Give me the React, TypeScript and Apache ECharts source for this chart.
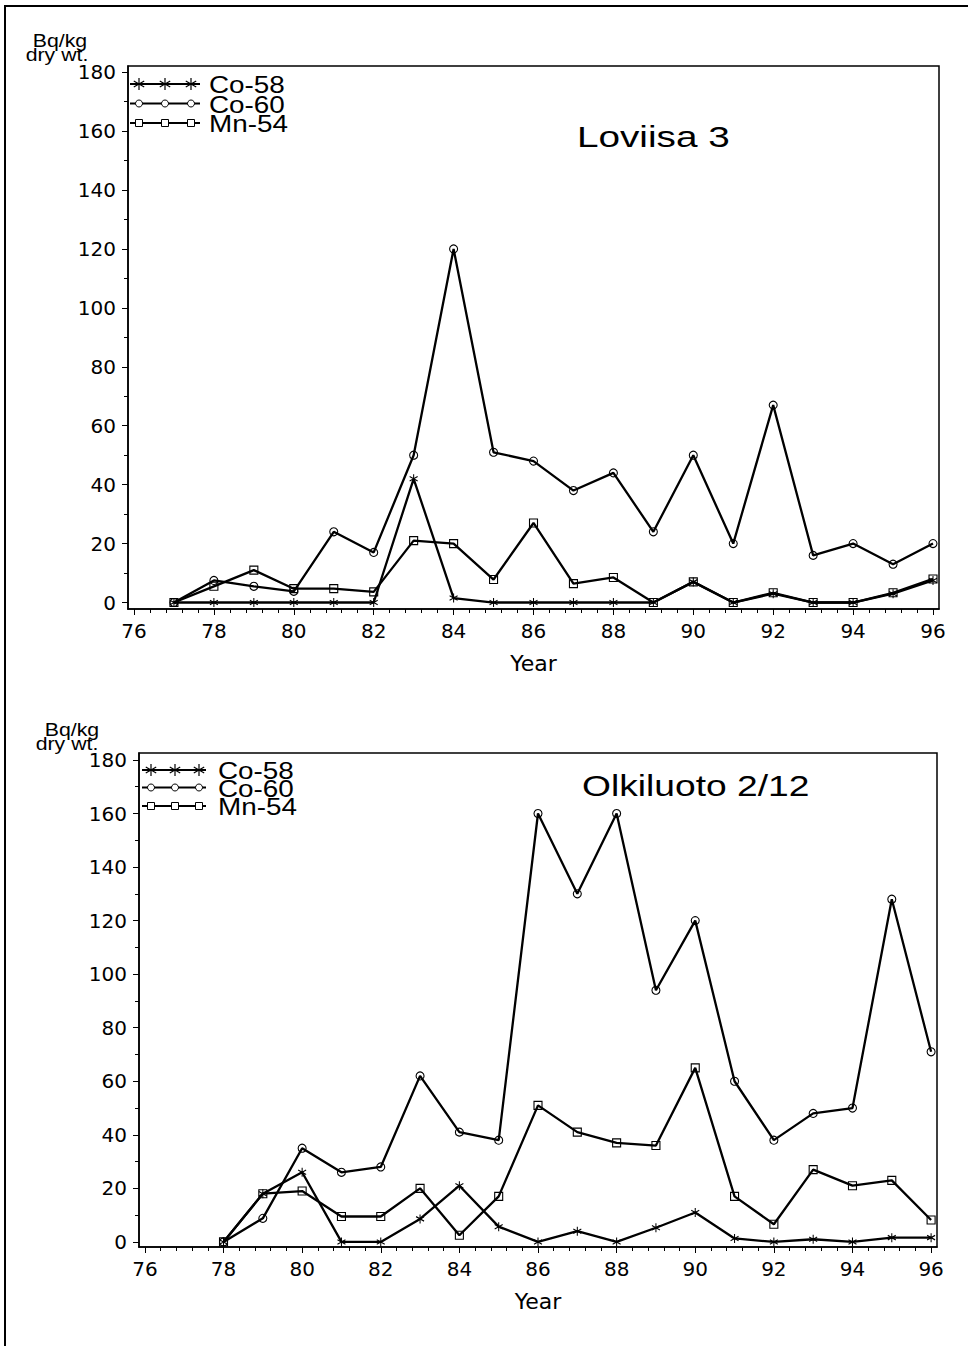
import React, { useEffect, useRef } from "react";
import * as echarts from "echarts";

// ---------- data ----------
const loviisaYears = [77, 78, 79, 80, 81, 82, 83, 84, 85, 86, 87, 88, 89, 90, 91, 92, 93, 94, 95, 96];
const loviisaCo58 = [0, 0, 0, 0, 0, 0, 42, 1.5, 0, 0, 0, 0, 0, 7, 0, 3, 0, 0, 3, 7.5];
const loviisaCo60 = [0, 7.5, 5.5, 3.8, 24, 17, 50, 120, 51, 48, 38, 44, 24, 50, 20, 67, 16, 20, 13, 20];
const loviisaMn54 = [0, 5.5, 11, 4.7, 4.7, 3.6, 21, 20, 7.8, 27, 6.4, 8.5, 0, 7, 0, 3.3, 0, 0, 3.3, 8];

const olkYears = [78, 79, 80, 81, 82, 83, 84, 85, 86, 87, 88, 89, 90, 91, 92, 93, 94, 95, 96];
const olkCo58 = [0, 18, 26, 0, 0, 8.6, 21, 5.7, 0, 4, 0, 5.3, 11, 1.3, 0, 1, 0, 1.6, 1.6];
const olkCo60 = [0, 8.8, 35, 26, 28, 62, 41, 38, 160, 130, 160, 94, 120, 60, 38, 48, 50, 128, 71];
const olkMn54 = [0, 18, 19, 9.5, 9.5, 20, 2.5, 17, 51, 41, 37, 36, 65, 17, 6.6, 27, 21, 23, 8.2];

const xTickValues = [76, 78, 80, 82, 84, 86, 88, 90, 92, 94, 96];
const yTickValues = [0, 20, 40, 60, 80, 100, 120, 140, 160, 180];
const seriesNames = ["Co-58", "Co-60", "Mn-54"];
const titles = ["Loviisa 3", "Olkiluoto 2/12"];
const unitLines = ["Bq/kg", "dry wt."];
const xName = "Year";

const xMinor: number[] = [];
for (let i = 0; i <= 50; i++) {
  if (i % 5 !== 0) xMinor.push(Math.round((76 + i * 0.4) * 10) / 10);
}
const yMinor: number[] = [];
for (let v = 10; v < 180; v += 20) yMinor.push(v);

const FONT = '"Liberation Sans", Arial, sans-serif';
const AXFONT = '"DejaVu Sans", sans-serif';
const ASTER = "path://M5,0 L5,10 M0.67,2.5 L9.33,7.5 M0.67,7.5 L9.33,2.5";

function zip(xs: number[], ys: number[]) {
  return xs.map((x, i) => [x, ys[i]]);
}

function mkSeries(name: string, data: number[][], idx: number, kind: number) {
  const symbol = kind === 0 ? ASTER : kind === 1 ? "circle" : "rect";
  return {
    name,
    type: "line",
    xAxisIndex: idx * 2,
    yAxisIndex: idx * 2,
    data,
    symbol,
    symbolSize: kind === 0 ? [8, 9] : 8,
    showSymbol: true,
    lineStyle: { color: "#000", width: 2.3 },
    itemStyle: { color: "rgba(0,0,0,0)", borderColor: "#000", borderWidth: 1.1 },
    z: 3 + kind,
  };
}

function axesFor(gridIndex: number, yMin: number, yMax: number) {
  const xMain = {
    type: "value",
    gridIndex,
    position: "bottom",
    min: 75.85,
    max: 96.15,
    axisLine: { show: true, onZero: false, lineStyle: { color: "#000", width: 1.5 } },
    axisTick: { show: true, customValues: xTickValues, length: 6, lineStyle: { color: "#000", width: 1 } },
    axisLabel: {
      show: true,
      customValues: xTickValues,
      fontSize: 20,
      fontFamily: AXFONT,
      color: "#000",
      margin: 12,
    },
    splitLine: { show: false },
    name: xName,
    nameLocation: "middle",
    nameGap: 43,
    nameTextStyle: { fontSize: 22, fontFamily: AXFONT, color: "#000" },
  };
  const xMinorAxis = {
    type: "value",
    gridIndex,
    position: "bottom",
    min: 75.85,
    max: 96.15,
    axisLine: { show: false, onZero: false },
    axisTick: { show: true, customValues: xMinor, length: 4, lineStyle: { color: "#000", width: 1 } },
    axisLabel: { show: false },
    splitLine: { show: false },
  };
  const yMain = {
    type: "value",
    gridIndex,
    position: "left",
    min: yMin,
    max: yMax,
    axisLine: { show: true, onZero: false, lineStyle: { color: "#000", width: 1.5 } },
    axisTick: { show: true, customValues: yTickValues, length: 6, lineStyle: { color: "#000", width: 1 } },
    axisLabel: {
      show: true,
      customValues: yTickValues,
      fontSize: 20,
      fontFamily: AXFONT,
      color: "#000",
      margin: 12,
    },
    splitLine: { show: false },
  };
  const yMinorAxis = {
    type: "value",
    gridIndex,
    min: yMin,
    max: yMax,
    position: "left",
    axisLine: { show: false, onZero: false },
    axisTick: { show: true, customValues: yMinor, length: 4, lineStyle: { color: "#000", width: 1 } },
    axisLabel: { show: false },
    splitLine: { show: false },
  };
  return { x: [xMain, xMinorAxis], y: [yMain, yMinorAxis] };
}

function asterisk(cx: number, cy: number, r: number) {
  const dx = r * 0.87;
  const dy = r * 0.5;
  const ls = { stroke: "#000", lineWidth: 1.2 };
  return [
    { type: "line", shape: { x1: cx, y1: cy - r, x2: cx, y2: cy + r }, style: ls },
    { type: "line", shape: { x1: cx - dx, y1: cy - dy, x2: cx + dx, y2: cy + dy }, style: ls },
    { type: "line", shape: { x1: cx - dx, y1: cy + dy, x2: cx + dx, y2: cy - dy }, style: ls },
  ];
}

function legendGraphics(x0: number, x1: number, ys: number[], marks: number[], textX: number, astR: number) {
  const els: any[] = [];
  ys.forEach((y, k) => {
    els.push({ type: "line", shape: { x1: x0, y1: y, x2: x1, y2: y }, style: { stroke: "#000", lineWidth: 2 } });
    marks.forEach((mx) => {
      if (k === 0) {
        els.push(...asterisk(mx, y, astR));
      } else if (k === 1) {
        els.push({ type: "circle", shape: { cx: mx, cy: y, r: 3.5 }, style: { fill: "#fff", stroke: "#000", lineWidth: 1 } });
      } else {
        els.push({ type: "rect", shape: { x: mx - 3.5, y: y - 3.5, width: 7, height: 7 }, style: { fill: "#fff", stroke: "#000", lineWidth: 1 } });
      }
    });
    els.push({
      type: "text",
      x: textX,
      y: y + 1,
      scaleX: 1.16,
      style: {
        text: seriesNames[k],
        fontSize: 24,
        fontFamily: FONT,
        fill: "#000",
        align: "left",
        verticalAlign: "middle",
      },
    });
  });
  return els;
}

function textEl(text: string, x: number, y: number, size: number, sx: number, align = "left") {
  return {
    type: "text",
    x,
    y,
    scaleX: sx,
    style: { text, fontSize: size, fontFamily: FONT, fill: "#000", align, verticalAlign: "middle" },
  };
}

export default function App() {
  const ref = useRef<HTMLDivElement>(null);
  useEffect(() => {
    if (!ref.current) return;
    const chart = echarts.init(ref.current, null, { renderer: "svg" });
    const a0 = axesFor(0, -2.2, 182.1);
    const a1 = axesFor(1, -1.9, 182.6);
    const option: any = {
      animation: false,
      backgroundColor: "#fff",
      grid: [
        { left: 128, top: 66, width: 811, height: 543, show: true, borderColor: "#000", borderWidth: 1.5, backgroundColor: "transparent" },
        { left: 139, top: 753, width: 798, height: 494, show: true, borderColor: "#000", borderWidth: 1.5, backgroundColor: "transparent" },
      ],
      xAxis: [...a0.x, ...a1.x],
      yAxis: [...a0.y, ...a1.y],
      series: [
        mkSeries(seriesNames[0], zip(loviisaYears, loviisaCo58), 0, 0),
        mkSeries(seriesNames[1], zip(loviisaYears, loviisaCo60), 0, 1),
        mkSeries(seriesNames[2], zip(loviisaYears, loviisaMn54), 0, 2),
        mkSeries(seriesNames[0], zip(olkYears, olkCo58), 1, 0),
        mkSeries(seriesNames[1], zip(olkYears, olkCo60), 1, 1),
        mkSeries(seriesNames[2], zip(olkYears, olkMn54), 1, 2),
      ],
      graphic: [
        { type: "rect", shape: { x: 5, y: 6, width: 1200, height: 1600 }, style: { fill: "none", stroke: "#000", lineWidth: 2 }, silent: true },
        textEl(unitLines[0], 60, 40, 19, 1.12, "center"),
        textEl(unitLines[1], 57, 54, 19, 1.12, "center"),
        textEl(unitLines[0], 72, 729, 19, 1.12, "center"),
        textEl(unitLines[1], 67, 743, 19, 1.12, "center"),
        textEl(titles[0], 577, 137, 30, 1.29),
        textEl(titles[1], 582, 785, 30, 1.24),
        ...legendGraphics(130, 200, [84, 103.5, 123], [139, 165, 191], 209, 6),
        ...legendGraphics(142, 206, [770, 787.5, 806], [151, 175, 199], 218, 6),
      ],
    };
    chart.setOption(option);
    return () => chart.dispose();
  }, []);
  return <div ref={ref} style={{ position: "absolute", left: 0, top: 0, width: 968, height: 1346 }} />;
}
